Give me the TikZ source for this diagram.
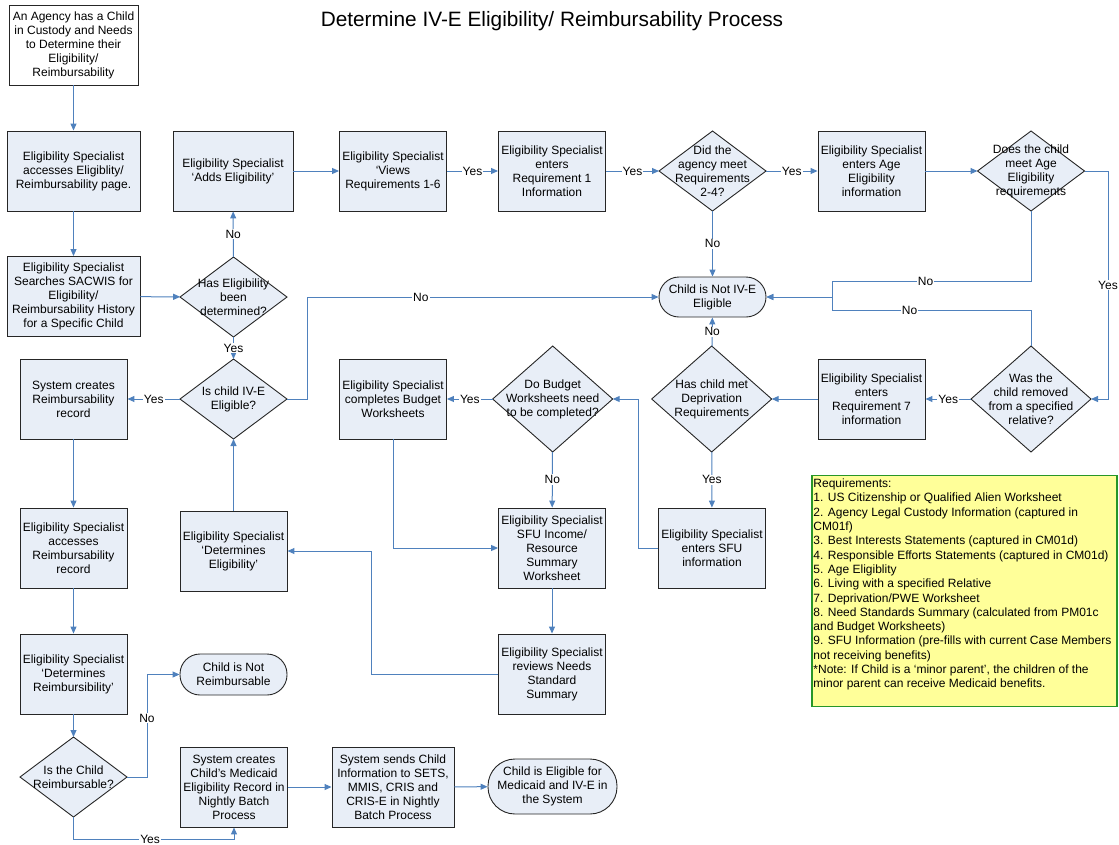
\documentclass[tikz,border=0pt]{standalone}
\usepackage{fontspec}
\setmainfont{Liberation Sans}
\usetikzlibrary{shapes.geometric,arrows.meta}
\definecolor{boxfill}{RGB}{232,238,247}
\definecolor{flow}{RGB}{79,129,189}
\definecolor{notefill}{RGB}{255,255,153}
\definecolor{noteline}{RGB}{40,150,40}
\begin{document}
\begin{tikzpicture}[x=1pt,y=-1pt,
  txt/.style={font=\fontsize{12}{14}\selectfont, align=center},
  proc/.style={txt, draw=black!85, line width=0.9pt, fill=boxfill,
    minimum width=107pt, minimum height=80pt, inner sep=1pt},
  term/.style={proc, rounded corners=#1},
  dec/.style={draw=black!85, line width=0.9pt, fill=boxfill, diamond,
    inner sep=0pt, outer sep=0pt},
  lbl/.style={txt, inner sep=0pt},
  link/.style={draw=flow, line width=1pt, -{Triangle[length=7pt,width=6pt]}},
  tag/.style={txt, fill=white, inner sep=1pt},
  notebox/.style={draw=noteline, line width=1.5pt, fill=notefill,
    minimum width=305pt, minimum height=231pt, inner sep=0pt}]
\useasboundingbox (0,0) rectangle (1119,844);

\node[font=\fontsize{20.8}{24}\selectfont] (title) at (552,21)
  {Determine IV-E Eligibility/ Reimbursability Process};

% left column
\node[proc, fill=white, minimum width=129pt] (agency) at (73.5,45)
  {An Agency has a Child\\in Custody and Needs\\to Determine their\\Eligibility/\\Reimbursability};
\node[proc, minimum width=133pt] (access) at (73.5,171)
  {Eligibility Specialist\\accesses Eligiblity/\\Reimbursability page.};
\node[proc, minimum width=133pt] (search) at (73.5,296.5)
  {Eligibility Specialist\\Searches SACWIS for\\Eligibility/\\Reimbursability History\\for a Specific Child};
\node[proc] (createrec) at (73.5,399) {System creates\\Reimbursability\\record};
\node[proc] (accessrec) at (73.5,548) {Eligibility Specialist\\accesses\\Reimbursability\\record};
\node[proc] (detreimb) at (73.5,674) {Eligibility Specialist\\‘Determines\\Reimbursibility’};
\node[dec, minimum width=107pt, minimum height=80pt,
  label={[lbl]center:{Is the Child\\Reimbursable?}}] (isreimb) at (73.5,777) {};

% second column
\node[proc, minimum width=120pt] (adds) at (233,171) {Eligibility Specialist\\‘Adds Eligibility’};
\node[dec, minimum width=107pt, minimum height=80pt,
  label={[lbl]center:{Has Eligibility\\been\\determined?}}] (hasdet) at (233.5,297) {};
\node[dec, minimum width=107pt, minimum height=80pt,
  label={[lbl]center:{Is child IV-E\\Eligible?}}] (isive) at (233.5,399) {};
\node[proc] (deteli) at (233.5,551) {Eligibility Specialist\\‘Determines\\Eligibility’};
\node[term=20pt, minimum height=41pt] (notreimb) at (233.5,674.5) {Child is Not\\Reimbursable};
\node[proc] (medrec) at (234,787)
  {System creates\\Child’s Medicaid\\Eligibility Record in\\Nightly Batch\\Process};

% top row
\node[proc] (views) at (393,171) {Eligibility Specialist\\‘Views\\Requirements 1-6};
\node[proc] (req1) at (552,171) {Eligibility Specialist\\enters\\Requirement 1\\Information};
\node[dec, minimum width=107pt, minimum height=80pt,
  label={[lbl]center:{Did the\\agency meet\\Requirements\\2-4?}}] (req24) at (712.5,171) {};
\node[proc] (age) at (871.5,171) {Eligibility Specialist\\enters Age\\Eligibility\\information};
\node[dec, minimum width=107pt, minimum height=80pt,
  label={[lbl]center:{Does the child\\meet Age\\Eligibility\\requirements}}] (ageok) at (1031,171) {};

\node[term=20pt, minimum height=40pt] (notive) at (712.5,297) {Child is Not IV-E\\Eligible};

% middle row
\node[proc] (budget) at (393,399) {Eligibility Specialist\\completes Budget\\Worksheets};
\node[dec, minimum width=120pt, minimum height=106pt,
  label={[lbl]center:{Do Budget\\Worksheets need\\to be completed?}}] (needbud) at (552.7,399) {};
\node[dec, minimum width=120pt, minimum height=106pt,
  label={[lbl]center:{Has child met\\Deprivation\\Requirements}}] (depriv) at (711.7,399) {};
\node[proc] (req7) at (871.5,399) {Eligibility Specialist\\enters\\Requirement 7\\information};
\node[dec, minimum width=120pt, minimum height=106pt,
  label={[lbl]center:{Was the\\child removed\\from a specified\\relative?}}] (removed) at (1031,399) {};

\node[proc] (sfuinc) at (552,548) {Eligibility Specialist\\SFU Income/\\Resource\\Summary\\Worksheet};
\node[proc] (sfu) at (712,548) {Eligibility Specialist\\enters SFU\\information};
\node[proc] (needs) at (552,674) {Eligibility Specialist\\reviews Needs\\Standard\\Summary};

% bottom row
\node[proc, minimum width=122pt] (sends) at (393,787)
  {System sends Child\\Information to SETS,\\MMIS, CRIS and\\CRIS-E in Nightly\\Batch Process};
\node[term=27pt, minimum width=129pt, minimum height=55pt] (eligible) at (552.5,786.5)
  {Child is Eligible for\\Medicaid and IV-E in\\the System};

% requirements note
\node[notebox, label={[anchor=north west, align=left, inner xsep=2pt, inner ysep=4pt,
  font=\fontsize{12}{14.3}\selectfont]north west:{Requirements:\\
1. US Citizenship or Qualified Alien Worksheet\\
2. Agency Legal Custody Information (captured in\\
CM01f)\\
3. Best Interests Statements (captured in CM01d)\\
4. Responsible Efforts Statements (captured in CM01d)\\
5. Age Eligiblity\\
6. Living with a specified Relative\\
7. Deprivation/PWE Worksheet\\
8. Need Standards Summary (calculated from PM01c\\
and Budget Worksheets)\\
9. SFU Information (pre-fills with current Case Members\\
not receiving benefits)\\
*Note: If Child is a ‘minor parent’, the children of the\\
minor parent can receive Medicaid benefits.}}] (note) at (964.5,591) {};

% connectors
\draw[link] (agency) -- (access);
\draw[link] (access) -- (search);
\draw[link] (search) -- (hasdet);
\draw[link] (hasdet) -- node[tag]{No} (adds);
\draw[link] (hasdet) -- node[tag]{Yes} (isive);
\draw[link] (adds) -- (views);
\draw[link] (views) -- node[tag]{Yes} (req1);
\draw[link] (req1) -- node[tag]{Yes} (req24);
\draw[link] (req24) -- node[tag]{Yes} (age);
\draw[link] (req24) -- node[tag]{No} (notive);
\draw[link] (age) -- (ageok);
\draw[link] (ageok.east) -- (1108,171) -- node[tag]{Yes} (1108,399) -- (removed.east);
\draw[link] (ageok.south) -- (1031,281) -- node[tag,pos=0.53]{No} (832,281) -- (832,297) -- (notive.east);
\draw[link] (removed.north) -- (1031,310) -- node[tag,pos=0.61]{No} (832,310) -- (832,297) -- (notive.east);
\draw[link] (removed) -- node[tag]{Yes} (req7);
\draw[link] (req7) -- (depriv);
\draw[link] (depriv) -- node[tag]{No} (notive);
\draw[link] (depriv) -- node[tag]{Yes} (sfu);
\draw[link] (sfu.west) -- (638,548) -- (638,399) -- (needbud.east);
\draw[link] (needbud) -- node[tag]{Yes} (budget);
\draw[link] (needbud) -- node[tag]{No} (sfuinc);
\draw[link] (budget.south) -- (393,548) -- (sfuinc.west);
\draw[link] (sfuinc) -- (needs);
\draw[link] (needs.west) -- (371,674) -- (371,551) -- (deteli.east);
\draw[link] (deteli) -- (isive);
\draw[link] (isive) -- node[tag]{Yes} (createrec);
\draw[link] (isive.east) -- (307,399) -- (307,297) -- node[tag,pos=0.324]{No} (notive.west);
\draw[link] (createrec) -- (accessrec);
\draw[link] (accessrec) -- (detreimb);
\draw[link] (detreimb) -- (isreimb);
\draw[link] (isreimb.east) -- (147,777) -- node[tag,pos=0.576]{No} (147,674.5) -- (notreimb.west);
\draw[link] (isreimb.south) -- (73.5,839) -- node[tag,pos=0.477]{Yes} (234,839) -- (medrec.south);
\draw[link] (medrec) -- (sends);
\draw[link] (sends) -- (eligible);
\end{tikzpicture}
\end{document}
